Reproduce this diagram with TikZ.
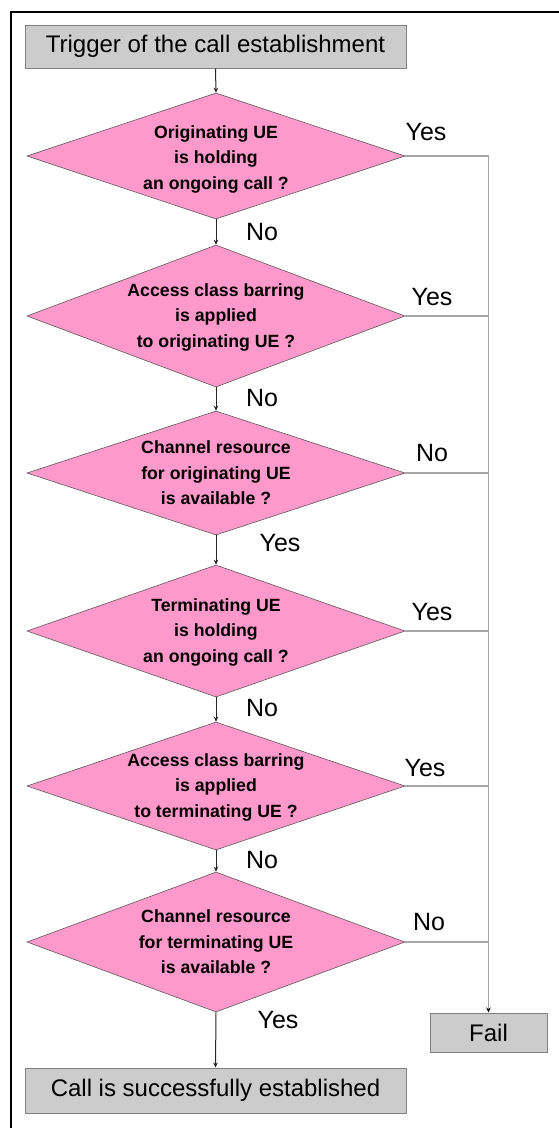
\documentclass[tikz,border=0pt]{standalone}
\usepackage{fontspec}
\setmainfont{Liberation Sans}
\usetikzlibrary{shapes.geometric,arrows.meta}
\definecolor{pinkfill}{HTML}{FF99CC}
\definecolor{boxfill}{HTML}{CCCCCC}
\definecolor{boxline}{HTML}{7F7F7F}
\definecolor{branch}{HTML}{A6A6A6}
\begin{document}
\begin{tikzpicture}[x=1pt,y=-1pt,
  dia/.style={diamond, draw=black!65, line width=0.6pt, fill=pinkfill, minimum width=378pt, inner sep=0pt},
  dtext/.style={align=center, font=\bfseries\fontsize{17.7}{25.5}\selectfont, inner sep=0pt},
  procbox/.style={draw=boxline, line width=1pt, fill=boxfill, font=\fontsize{24}{28}\selectfont, inner sep=0pt},
  lbl/.style={font=\fontsize{25}{30}\selectfont, inner sep=0pt},
  flow/.style={draw=black!85, line width=1pt, -{Stealth[length=5pt,width=4.5pt]}},
  branchline/.style={draw=branch, line width=1.3pt},
  frame/.style={draw=black, line width=2.6pt}
]
\useasboundingbox (0,0) rectangle (559,1128);
% outer frame (only left and top visible)
\coordinate (fbl) at (11,1135);
\coordinate (ftr) at (570,12);
\draw[frame] (fbl) |- (ftr);

% process boxes
\node[procbox, minimum width=381pt, minimum height=43pt] (start) at (215.5,46.5) {Trigger of the call establishment};
\node[procbox, minimum width=381pt, minimum height=45pt] (done) at (215.5,1090.5) {Call is successfully established};
\node[procbox, minimum width=117pt, minimum height=39pt] (fail) at (488.5,1032.5) {Fail};

% decisions
\node[dia, minimum height=126pt] (d1) at (216,156) {};
\node[dtext] (t1) at (216,159) {Originating UE\\is holding\\an ongoing call ?};
\node[dia, minimum height=142pt] (d2) at (216,316) {};
\node[dtext] (t2) at (216,317) {Access class barring\\is applied\\to originating UE ?};
\node[dia, minimum height=124pt] (d3) at (216,473) {};
\node[dtext] (t3) at (216,473) {Channel resource\\for originating UE\\is available ?};
\node[dia, minimum height=132pt] (d4) at (216,631) {};
\node[dtext] (t4) at (216,632) {Terminating UE\\is holding\\an ongoing call ?};
\node[dia, minimum height=128pt] (d5) at (216,786) {};
\node[dtext] (t5) at (216,787) {Access class barring\\is applied\\to terminating UE ?};
\node[dia, minimum height=140pt] (d6) at (216,942) {};
\node[dtext] (t6) at (216,942) {Channel resource\\for terminating UE\\is available ?};

% main flow
\draw[flow] (start.south) -- (d1.north);
\draw[flow] (d1.south) -- (d2.north);
\draw[flow] (d2.south) -- (d3.north);
\draw[flow] (d3.south) -- (d4.north);
\draw[flow] (d4.south) -- (d5.north);
\draw[flow] (d5.south) -- (d6.north);
\draw[flow] (d6.south) -- (done.north);

% branch to fail
\coordinate (j1) at (488.5,156);
\coordinate (j2) at (488.5,316);
\coordinate (j3) at (488.5,473);
\coordinate (j4) at (488.5,631);
\coordinate (j5) at (488.5,786);
\coordinate (j6) at (488.5,942);
\draw[branchline] (d1.east) -- (j1);
\draw[branchline] (d2.east) -- (j2);
\draw[branchline] (d3.east) -- (j3);
\draw[branchline] (d4.east) -- (j4);
\draw[branchline] (d5.east) -- (j5);
\draw[branchline] (d6.east) -- (j6);
\draw[branchline, -{Stealth[length=5pt,width=4.5pt,black]}] (j1) -- (fail.north);

% labels on right branches
\node[lbl] (y1) at (426,132) {Yes};
\node[lbl] (y2) at (432,297) {Yes};
\node[lbl] (n3) at (432,453) {No};
\node[lbl] (y4) at (432,612) {Yes};
\node[lbl] (y5) at (425,768) {Yes};
\node[lbl] (n6) at (429,922) {No};

% labels on main flow
\node[lbl] (m1) at (262,232) {No};
\node[lbl] (m2) at (262,398) {No};
\node[lbl] (m3) at (280,543) {Yes};
\node[lbl] (m4) at (262,708) {No};
\node[lbl] (m5) at (262,860) {No};
\node[lbl] (m6) at (278,1020) {Yes};
\end{tikzpicture}
\end{document}
